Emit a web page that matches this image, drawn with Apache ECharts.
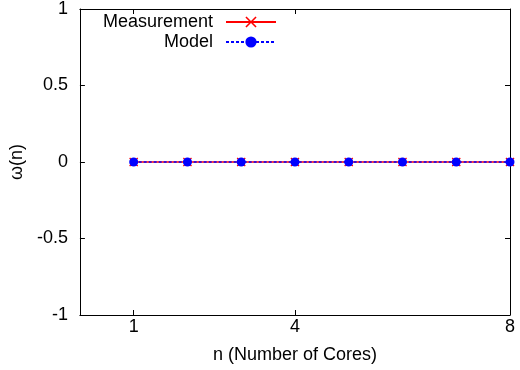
<!DOCTYPE html>
<html>
<head>
<meta charset="utf-8">
<script src="https://cdn.jsdelivr.net/npm/echarts@6/dist/echarts.min.js"></script>
<style>html,body{margin:0;padding:0;background:#fff}#c{width:520px;height:370px}</style>
</head>
<body>
<div id="c"></div>
<script>
const cores = [1, 2, 3, 4, 5, 6, 7, 8];
const measurement = [0, 0, 0, 0, 0, 0, 0, 0];
const model = [0, 0, 0, 0, 0, 0, 0, 0];
const xTicks = [1, 4, 8];
const yTicks = [-1, -0.5, 0, 0.5, 1];

const FONT = 'Liberation Sans';
const FS = 18;
const crossPath = 'path://M0,1 L1,0 L5,4 L9,0 L10,1 L6,5 L10,9 L9,10 L5,6 L1,10 L0,9 L4,5 Z';

const chart = echarts.init(document.getElementById('c'), null, {renderer: 'canvas'});
const axisLine = {show: true, onZero: false, lineStyle: {color: '#000', width: 1}};
const legendText = {fontFamily: FONT, fontSize: FS, color: '#000', padding: [0, 8, 0, 0]};
chart.setOption({
  animation: false,
  textStyle: {fontFamily: FONT},
  grid: {left: 78.5, right: 10, top: 5, bottom: 55, containLabel: false},
  legend: [
    {data: ['Measurement'], right: 243, top: 13, align: 'right', itemWidth: 50, itemHeight: 14, itemGap: 0,
     textStyle: legendText, padding: 0},
    {data: ['Model'], right: 243, top: 33, align: 'right', itemWidth: 50, itemHeight: 14, itemGap: 0,
     textStyle: legendText, padding: 0}
  ],
  xAxis: [{
    type: 'value', min: 0, max: 8,
    name: 'n (Number of Cores)', nameLocation: 'middle', nameGap: 31,
    nameTextStyle: {fontFamily: FONT, fontSize: FS, color: '#000'},
    axisLine: axisLine,
    axisTick: {show: true, inside: true, length: 5, customValues: xTicks, lineStyle: {color: '#000'}},
    axisLabel: {customValues: xTicks, fontFamily: FONT, fontSize: FS, color: '#000', margin: 3},
    splitLine: {show: false}
  }, {
    type: 'value', min: 0, max: 8, position: 'top',
    axisLine: axisLine,
    axisTick: {show: true, inside: true, length: 5, customValues: xTicks, lineStyle: {color: '#000'}},
    axisLabel: {show: false},
    splitLine: {show: false}
  }],
  yAxis: [{
    type: 'value', min: -1, max: 1, interval: 0.5,
    name: 'ω(n)', nameLocation: 'middle', nameGap: 47,
    nameTextStyle: {fontFamily: FONT, fontSize: FS, color: '#000'},
    axisLine: axisLine,
    axisTick: {show: true, inside: true, length: 5, customValues: yTicks, lineStyle: {color: '#000'}},
    axisLabel: {customValues: yTicks, fontFamily: FONT, fontSize: FS, color: '#000', margin: 12},
    splitLine: {show: false}
  }, {
    type: 'value', min: -1, max: 1, interval: 0.5, position: 'right',
    axisLine: axisLine,
    axisTick: {show: true, inside: true, length: 5, lineStyle: {color: '#000'}},
    axisLabel: {show: false},
    splitLine: {show: false}
  }],
  series: [{
    name: 'Measurement', type: 'line',
    data: cores.map((c, i) => [c, measurement[i]]),
    symbol: crossPath, symbolSize: 9,
    itemStyle: {color: '#ff0000'},
    lineStyle: {color: '#ff0000', width: 1.5, type: 'solid'},
    z: 2
  }, {
    name: 'Model', type: 'line',
    data: cores.map((c, i) => [c, model[i]]),
    symbol: 'circle', symbolSize: 9,
    itemStyle: {color: '#0000ff'},
    lineStyle: {color: '#0000ff', width: 1.5, type: [3, 2]},
    z: 3
  }]
});
</script>
</body>
</html>
